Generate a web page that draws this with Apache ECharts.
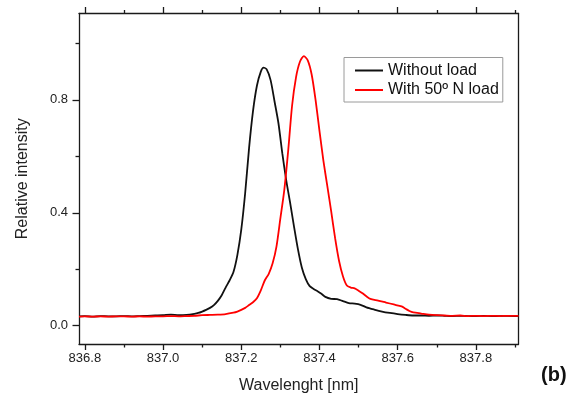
<!DOCTYPE html>
<html>
<head>
<meta charset="utf-8">
<script src="https://cdn.jsdelivr.net/npm/echarts@6/dist/echarts.min.js"></script>
<style>
html,body{margin:0;padding:0;background:#fff;}
#chart{width:577px;height:399px;}
</style>
</head>
<body>
<div id="chart"></div>
<script>
// ---- data ----
const seriesNames = ['Without load', 'With 50º N load'];
const blackWl = [836.785,836.80,836.82,836.84,836.86,836.88,836.90,836.92,836.94,836.96,836.98,837.00,837.02,837.04,837.06,837.08,837.09,837.10,837.11,837.12,837.13,837.14,837.15,837.16,837.17,837.18,837.19,837.20,837.21,837.22,837.23,837.24,837.25,837.257,837.265,837.275,837.285,837.295,837.305,837.315,837.325,837.335,837.345,837.355,837.365,837.375,837.385,837.395,837.405,837.415,837.43,837.445,837.46,837.475,837.49,837.505,837.52,837.54,837.56,837.58,837.60,837.62,837.64,837.66,837.68,837.70,837.72,837.74,837.76,837.78,837.80,837.82,837.84,837.86,837.88,837.909];
const blackVal = [0.033,0.034,0.032,0.034,0.033,0.033,0.034,0.033,0.034,0.035,0.036,0.037,0.039,0.037,0.038,0.042,0.045,0.050,0.056,0.063,0.073,0.088,0.108,0.135,0.160,0.190,0.250,0.340,0.470,0.630,0.760,0.850,0.900,0.914,0.908,0.870,0.795,0.718,0.610,0.515,0.435,0.350,0.270,0.205,0.165,0.140,0.130,0.122,0.113,0.102,0.095,0.094,0.087,0.080,0.078,0.074,0.065,0.057,0.050,0.045,0.041,0.038,0.036,0.036,0.035,0.036,0.035,0.034,0.035,0.034,0.034,0.035,0.034,0.034,0.035,0.034];
const redWl = [836.785,836.80,836.82,836.84,836.86,836.88,836.90,836.92,836.94,836.96,836.98,837.00,837.02,837.04,837.06,837.08,837.10,837.12,837.14,837.16,837.18,837.19,837.20,837.21,837.22,837.23,837.24,837.25,837.26,837.27,837.28,837.29,837.30,837.31,837.32,837.33,837.34,837.35,837.36,837.37,837.38,837.39,837.40,837.41,837.42,837.43,837.44,837.45,837.46,837.47,837.48,837.49,837.50,837.51,837.52,837.53,837.55,837.57,837.59,837.61,837.62,837.63,837.64,837.66,837.68,837.70,837.72,837.74,837.76,837.78,837.80,837.82,837.84,837.86,837.88,837.909];
const redVal = [0.032,0.033,0.032,0.033,0.032,0.033,0.033,0.032,0.033,0.032,0.033,0.033,0.034,0.033,0.034,0.035,0.037,0.038,0.039,0.041,0.046,0.050,0.056,0.063,0.073,0.083,0.097,0.125,0.160,0.183,0.220,0.280,0.380,0.480,0.620,0.780,0.880,0.935,0.955,0.940,0.890,0.800,0.690,0.585,0.495,0.405,0.310,0.230,0.175,0.142,0.135,0.132,0.124,0.115,0.104,0.095,0.089,0.082,0.075,0.068,0.060,0.052,0.047,0.043,0.039,0.037,0.036,0.035,0.036,0.034,0.035,0.034,0.035,0.034,0.035,0.035];
const xMajorTicks = [836.8,837.0,837.2,837.4,837.6,837.8];
const xMinorTicks = [836.9,837.1,837.3,837.5,837.7,837.9];
const yMajorTicks = [0.0,0.4,0.8];
const yMinorTicks = [0.2,0.6,1.0];
const xTitle = 'Wavelenght [nm]';
const yTitle = 'Relative intensity';
const panelTag = '(b)';

// ---- chart ----
const FONT = '"Liberation Sans", Arial, sans-serif';
const X_MIN = 836.785, X_MAX = 837.909, Y_MIN = -0.065, Y_MAX = 1.106;
const axisLineStyle = {color: '#1a1a1a', width: 1.3};

function xAx(pos, ticks, len, showLine, opts) {
  return Object.assign({
    type: 'value', position: pos, min: X_MIN, max: X_MAX, gridIndex: 0,
    axisLine: {show: showLine, onZero: false, lineStyle: axisLineStyle}, splitLine: {show: false},
    axisTick: {show: true, inside: false, length: len, customValues: ticks, lineStyle: axisLineStyle},
    axisLabel: {show: false}
  }, opts || {});
}
function yAx(pos, ticks, len, showLine, opts) {
  return Object.assign({
    type: 'value', position: pos, min: Y_MIN, max: Y_MAX, gridIndex: 0,
    axisLine: {show: showLine, onZero: false, lineStyle: axisLineStyle}, splitLine: {show: false},
    axisTick: {show: !!ticks, inside: false, length: len, customValues: ticks || [], lineStyle: axisLineStyle},
    axisLabel: {show: false}
  }, opts || {});
}

const chart = echarts.init(document.getElementById('chart'), null, {renderer: 'canvas'});
chart.setOption({
  animation: false,
  backgroundColor: '#ffffff',
  textStyle: {fontFamily: FONT},
  grid: {left: 79, right: 58.5, top: 13.5, bottom: 54, containLabel: false},
  legend: {
    orient: 'vertical', left: 344, top: 57.5,
    data: seriesNames.map(n => ({name: n, icon: 'rect'})),
    itemWidth: 28, itemHeight: 2, itemGap: 3.5,
    padding: [5, 4, 4, 11],
    borderColor: '#9a9a9a', borderWidth: 1, backgroundColor: '#fff',
    textStyle: {fontFamily: FONT, fontSize: 16, color: '#111'}
  },
  xAxis: [
    xAx('bottom', xMajorTicks, 6, true, {
      axisLabel: {show: true, customValues: xMajorTicks, margin: 8, fontSize: 13, color: '#222', fontFamily: FONT,
        formatter: v => v.toFixed(1)},
      name: xTitle, nameLocation: 'middle', nameGap: 34,
      nameTextStyle: {fontSize: 16, color: '#222', fontFamily: FONT}
    }),
    xAx('bottom', xMinorTicks, 3.5, false),
    xAx('top', xMajorTicks, 6.5, true),
    xAx('top', xMinorTicks, 3.5, false)
  ],
  yAxis: [
    yAx('left', yMajorTicks, 6.5, true, {
      axisLabel: {show: true, customValues: yMajorTicks, margin: 11, fontSize: 13, color: '#222', fontFamily: FONT,
        formatter: v => v.toFixed(1)},
      name: yTitle, nameLocation: 'middle', nameGap: 48, nameRotate: 90,
      nameTextStyle: {fontSize: 16, color: '#222', fontFamily: FONT}
    }),
    yAx('left', yMinorTicks, 3.5, false),
    yAx('right', null, 0, true)
  ],
  series: [
    {
      name: seriesNames[0], type: 'line', xAxisIndex: 0, yAxisIndex: 0,
      data: blackWl.map((w, i) => [w, blackVal[i]]),
      showSymbol: false, symbol: 'none', smooth: 0.25,
      lineStyle: {color: '#111111', width: 1.8}, itemStyle: {color: '#111111'}, z: 3
    },
    {
      name: seriesNames[1], type: 'line', xAxisIndex: 0, yAxisIndex: 0,
      data: redWl.map((w, i) => [w, redVal[i]]),
      showSymbol: false, symbol: 'none', smooth: 0.25,
      lineStyle: {color: '#ff0000', width: 1.8}, itemStyle: {color: '#ff0000'}, z: 4
    }
  ],
  graphic: [
    {type: 'text', left: 541, top: 365,
     style: {text: panelTag, font: 'bold 20px ' + FONT, fill: '#111'}}
  ]
});
</script>
</body>
</html>
